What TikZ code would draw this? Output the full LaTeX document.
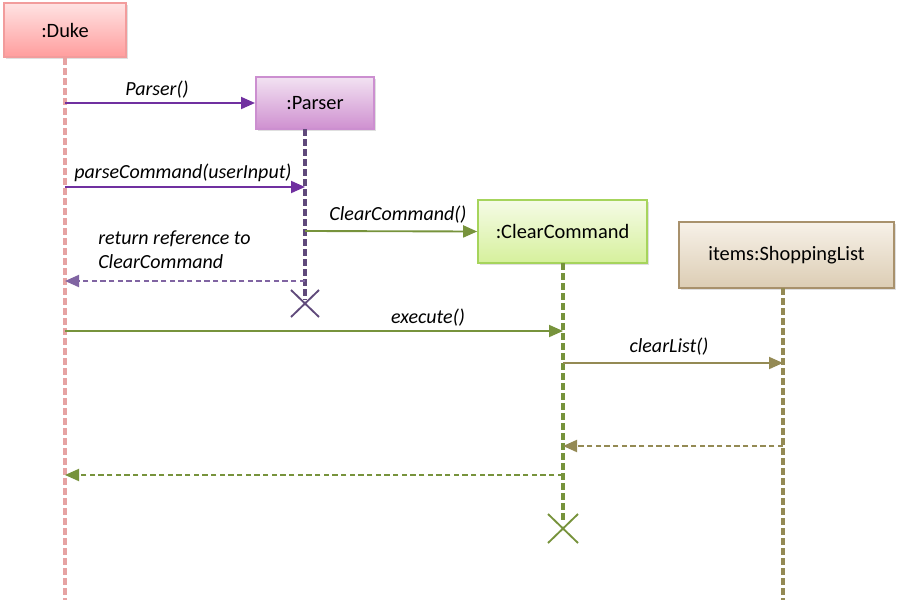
\documentclass[tikz,border=0pt]{standalone}
\usepackage{fontspec}
\setmainfont{Carlito}
\usetikzlibrary{arrows.meta,shadows}
\definecolor{dukeborder}{HTML}{F29C9C}
\definecolor{duketop}{HTML}{FFE3E3}
\definecolor{dukebot}{HTML}{FF9D9D}
\definecolor{dukeline}{HTML}{E6A3A3}
\definecolor{parsborder}{HTML}{CC8FD0}
\definecolor{parstop}{HTML}{F2E2F2}
\definecolor{parsbot}{HTML}{CF90D0}
\definecolor{parsline}{HTML}{604A7B}
\definecolor{purplearrow}{HTML}{7030A0}
\definecolor{purpleret}{HTML}{8064A2}
\definecolor{ccborder}{HTML}{A6D45C}
\definecolor{cctop}{HTML}{F5FBE6}
\definecolor{ccbot}{HTML}{D6F09C}
\definecolor{olive}{HTML}{77933C}
\definecolor{slborder}{HTML}{A8916C}
\definecolor{sltop}{HTML}{F7F1E8}
\definecolor{slbot}{HTML}{DCCDB4}
\definecolor{khaki}{HTML}{948A54}
\tikzset{
  x=0.75pt, y=-0.75pt,
  objbox/.style={draw, line width=1.5pt, rectangle, minimum height=40pt, font=\fontsize{15.3}{18}\selectfont, drop shadow={shadow xshift=1.5pt, shadow yshift=-1.5pt, opacity=0.25}},
  lifeline/.style={line width=2.4pt, dash pattern=on 5pt off 2.5pt},
  msg/.style={line width=1.4pt, -{Triangle[length=10.5pt,width=9pt]}},
  ret/.style={line width=1.4pt, dash pattern=on 4pt off 2.5pt, -{Triangle[length=10.5pt,width=9pt]}},
  lbl/.style={font=\fontsize{15}{17.3}\selectfont\itshape, inner sep=0pt},
  killx/.style={line width=1.4pt}
}
\begin{document}
\begin{tikzpicture}
\useasboundingbox (0,0) rectangle (900,607);
% objects
\node[objbox, draw=dukeborder, top color=duketop, bottom color=dukebot, minimum width=91.5pt, minimum height=40.5pt] (duke) at (65,30) {:Duke};
\node[objbox, draw=parsborder, top color=parstop, bottom color=parsbot, minimum width=88.5pt, minimum height=39pt] (parser) at (315,103) {:Parser};
\node[objbox, draw=ccborder, top color=cctop, bottom color=ccbot, minimum width=126.5pt, minimum height=47pt] (cc) at (562.5,231.5) {:ClearCommand};
\node[objbox, draw=slborder, top color=sltop, bottom color=slbot, minimum width=161pt, minimum height=49.5pt] (sl) at (786.5,255) {items:ShoppingList};
% lifeline anchors
\coordinate (dukeE) at (65,600);
\coordinate (parsT) at (305,129);
\coordinate (parsE) at (305,300);
\coordinate (ccT) at (563,263);
\coordinate (ccE) at (563,522);
\coordinate (slT) at (783,288);
\coordinate (slE) at (783,600);
% lifelines
\draw[lifeline, draw=dukeline] (duke.south) -- (dukeE);
\draw[lifeline, draw=parsline] (parsT) -- (parsE);
\draw[lifeline, draw=olive] (ccT) -- (ccE);
\draw[lifeline, draw=khaki] (slT) -- (slE);
% message points
\coordinate (d1) at (65,103);
\coordinate (d2) at (65,187);
\coordinate (p2) at (305,187);
\coordinate (p3) at (305,231);
\coordinate (p4) at (305,281);
\coordinate (d4) at (65,281);
\coordinate (d5) at (65,331);
\coordinate (c5) at (563,331);
\coordinate (c6) at (563,363);
\coordinate (s6) at (783,363);
\coordinate (s7) at (783,446);
\coordinate (c7) at (563,446);
\coordinate (c8) at (563,475);
\coordinate (d8) at (65,475);
% messages
\draw[msg, draw=purplearrow] (d1) -- (parser.west);
\node[lbl] (l1) at (157,90) {Parser()};
\draw[msg, draw=purplearrow] (d2) -- (p2);
\node[lbl] (l2) at (183,173) {parseCommand(userInput)};
\draw[msg, draw=olive] (p3) -- (cc.west);
\node[lbl] (l3) at (398,215) {ClearCommand()};
\draw[ret, draw=purpleret] (p4) -- (d4);
\node[lbl, anchor=north west, align=left] (l4) at (98,231) {return reference to\\ClearCommand};
\draw[msg, draw=olive] (d5) -- (c5);
\node[lbl] (l5) at (428,318) {execute()};
\draw[msg, draw=khaki] (c6) -- (s6);
\node[lbl] (l6) at (669,347) {clearList()};
\draw[ret, draw=khaki] (s7) -- (c7);
\draw[ret, draw=olive] (c8) -- (d8);
% destruction marks
\coordinate (x1a) at (291,290); \coordinate (x1b) at (319,317);
\coordinate (x1c) at (291,317); \coordinate (x1d) at (319,290);
\draw[killx, draw=parsline] (x1a) -- (x1b) (x1c) -- (x1d);
\coordinate (x2a) at (548,514); \coordinate (x2b) at (578,543);
\coordinate (x2c) at (548,543); \coordinate (x2d) at (578,514);
\draw[killx, draw=olive] (x2a) -- (x2b) (x2c) -- (x2d);
\end{tikzpicture}
\end{document}
